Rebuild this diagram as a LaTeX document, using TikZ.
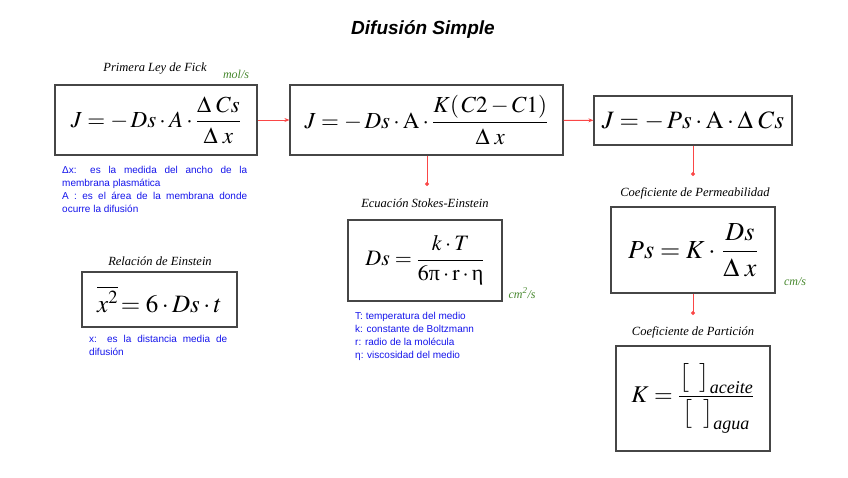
\documentclass[tikz,border=0pt]{standalone}
\usepackage{amsmath}
\usepackage{mathptmx}
\usepackage{fontspec}
\setmainfont{Liberation Serif}
\setsansfont{Liberation Sans}
\usetikzlibrary{arrows.meta}
\definecolor{notablue}{RGB}{20,20,235}
\definecolor{unitgreen}{RGB}{70,135,45}
\definecolor{linkred}{RGB}{250,70,70}
\definecolor{boxgray}{RGB}{70,70,70}
\newcommand{\stretchline}[2]{\makebox[#1][s]{#2}}
\newcommand{\subtext}[1]{\text{\fontsize{18}{20}\selectfont\itshape #1}}
\tikzset{
  eqbox/.style={draw=boxgray,line width=1.2pt,inner sep=0pt,font=\fontsize{23}{27}\selectfont},
  eqtitle/.style={font=\fontsize{12.5}{14}\selectfont\itshape},
  unit/.style={font=\fontsize{12}{14}\selectfont\itshape,text=unitgreen},
  note/.style={font=\sffamily\fontsize{10}{13}\selectfont,text=notablue,align=left,anchor=north west,inner sep=0pt},
  link/.style={linkred,line width=1pt},
  linkarrow/.style={link,-{Stealth[length=5pt,width=4pt]}},
  linkdot/.style={link,-{Circle[length=4pt]}}
}
\begin{document}
\begin{tikzpicture}[x=1pt,y=-1pt]
\useasboundingbox (0,0) rectangle (848,477);
\node[font=\sffamily\bfseries\itshape\fontsize{19}{22}\selectfont] (title) at (423,30) {Difusión Simple};

% primera fila
\node[eqbox,minimum width=202pt,minimum height=70pt] (fick) at (156,120)
  {$J=-\,Ds\cdot A\cdot\dfrac{\Delta\;Cs}{\Delta\;x}$};
\node[eqtitle] (fickt) at (155,69) {Primera Ley de Fick};
\node[unit] (ficku) at (236,74) {mol/s};
\node[eqbox,minimum width=273pt,minimum height=70pt] (fickk) at (426.5,120)
  {$J=-\,Ds\cdot \mathrm{A}\cdot\dfrac{K(\,C2-C1)}{\Delta\;x}$};
\node[eqbox,minimum width=198pt,minimum height=49pt,font=\fontsize{25}{29}\selectfont] (flujo) at (693,120.5)
  {$J=-\,Ps\cdot \mathrm{A}\cdot\Delta\;Cs$};
\draw[linkarrow] (fick) -- (fickk);
\draw[linkarrow] (fickk) -- (flujo);

\node[note] (fickn) at (62,166) {\stretchline{185pt}{Δx: es la medida del ancho de la}\\membrana plasmática\\\stretchline{185pt}{A : es el área de la membrana donde}\\ocurre la difusión};

% Einstein
\node[eqtitle] (eint) at (160,261) {Relación de Einstein};
\node[eqbox,minimum width=155pt,minimum height=55pt,font=\fontsize{25}{29}\selectfont] (ein) at (159.5,299.5)
  {$\rlap{$\overline{\vphantom{T^{2}}\hphantom{x^{2}}}$}x^{2}\!=6\cdot Ds\cdot t$};
\node[note] (einn) at (89,335) {\stretchline{138pt}{x: es la distancia media de}\\difusión};

% Stokes-Einstein
\node[eqtitle] (stokt) at (425,203) {Ecuación Stokes-Einstein};
\node[eqbox,minimum width=154pt,minimum height=81pt,font=\fontsize{22}{26}\selectfont] (stok) at (425,260.5)
  {$Ds=\dfrac{k\cdot T}{6\text{π}\cdot\mathrm{r}\cdot\text{η}}$};
\node[unit] (stoku) at (522,293) {cm\textsuperscript{2}/s};
\node[note] (stokn) at (355,312) {T: temperatura del medio\\k: constante de Boltzmann\\r: radio de la molécula\\η: viscosidad del medio};
\coordinate (stokd) at (427,186);
\draw[linkdot] (fickk.south -| stokd) -- (stokd);

% permeabilidad
\node[eqtitle] (permt) at (695,193) {Coeficiente de Permeabilidad};
\node[eqbox,minimum width=164pt,minimum height=86pt,font=\fontsize{26}{30}\selectfont] (perm) at (693,250)
  {$Ps=K\cdot\,\dfrac{Ds}{\Delta\;x}$};
\node[unit] (permu) at (795,282) {cm/s};
\coordinate (permd) at (693,176);
\draw[linkdot] (flujo) -- (permd);

% particion
\node[eqtitle] (partt) at (693,332) {Coeficiente de Partición};
\node[eqbox,minimum width=154pt,minimum height=105pt,font=\fontsize{24}{28}\selectfont] (part) at (693,398.5)
  {$K=\dfrac{\big[\;\;\big]_{\subtext{aceite}}}{\big[\;\;\big]_{\subtext{agua}}}$};
\coordinate (partd) at (693,315);
\draw[linkdot] (perm) -- (partd);
\end{tikzpicture}
\end{document}
